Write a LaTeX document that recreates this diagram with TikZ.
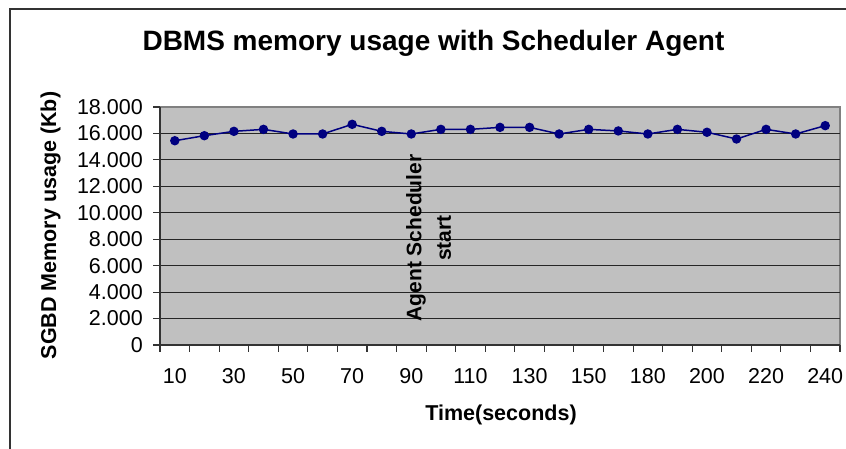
\documentclass[tikz,border=0pt]{standalone}
\usepackage{fontspec}
\setmainfont{Liberation Sans}
\definecolor{plotbg}{HTML}{C0C0C0}
\definecolor{plotframe}{HTML}{808080}
\definecolor{series}{HTML}{000080}
\definecolor{chartframe}{HTML}{333333}
\begin{document}
\begin{tikzpicture}[x=1pt,y=-1pt,
  ticklabel/.style={inner sep=0pt,font=\fontsize{21.5}{26}\selectfont},
  axistitle/.style={inner sep=0pt,font=\fontsize{21.5}{26}\selectfont\bfseries},
  charttitle/.style={inner sep=0pt,font=\fontsize{28}{34}\selectfont\bfseries},
  note/.style={inner sep=0pt,align=center,rotate=90,font=\fontsize{21}{29.5}\selectfont\bfseries},
  grid line/.style={black!85,line width=0.9pt},
  axis line/.style={black!80,line width=1.1pt},
  series line/.style={series,line width=1.5pt},
  marker/.style={circle,fill=series,inner sep=0pt,minimum size=9.5pt},
]
\useasboundingbox (0,0) rectangle (846,448);
\fill[white] (0,0) rectangle (846,448);

% chart frame (runs off the right and bottom edges)
\draw[chartframe,line width=1.6pt] (10,460) -- (10,9) -- (860,9);

% plot area
\fill[plotbg] (160,107) rectangle (840,345);
\draw[plotframe,line width=1.5pt] (160,107) -- (840,107) -- (840,345);

% horizontal grid lines every 2.000
\foreach \v in {1,...,8}
  \draw[grid line] (160,{345-\v*238/9}) -- (840,{345-\v*238/9});

% axes with tick marks
\draw[axis line] (160,107) -- (160,345) -- (840,345);
\foreach \v in {0,...,9}
  \draw[axis line] (153,{345-\v*238/9}) -- (160,{345-\v*238/9});
\foreach \k in {0,...,23}
  \draw[axis line] ({160+\k*680/23},345) -- ({160+\k*680/23},351.5);

% y tick labels
\foreach \v/\lab in {0/0,1/2.000,2/4.000,3/6.000,4/8.000,5/10.000,6/12.000,7/14.000,8/16.000,9/18.000}
  \node[ticklabel,anchor=east] (yl\v) at (143,{345-\v*238/9}) {\lab};

% x tick labels (every second category)
\foreach \k/\lab in {1/10,3/30,5/50,7/70,9/90,11/110,13/130,15/150,17/180,19/200,21/220,23/240}
  \node[ticklabel,anchor=base] (xl\k) at ({160+(\k-0.5)*680/23},383) {\lab};

% data series (values in thousands of Kb, scale 0..18 over 238pt)
\foreach \val [count=\i] in {15.45,15.83,16.16,16.31,15.96,15.96,16.69,16.16,15.96,16.31,16.31,16.46,16.46,15.96,16.31,16.19,15.96,16.31,16.09,15.58,16.31,15.96,16.59}
  \coordinate (p\i) at ({160+(\i-0.5)*680/23},{345-\val/18*238});
\draw[series line] (p1) \foreach \i in {2,...,23} { -- (p\i) };
\foreach \i in {1,...,23}
  \node[marker] (m\i) at (p\i) {};

% annotation
\node[note] (start) at (428.5,238) {Agent Scheduler\\start};

% titles
\node[charttitle,anchor=base] (title) at (433.5,50) {DBMS memory usage with Scheduler Agent};
\node[axistitle,anchor=base] (xtitle) at (501,420) {Time(seconds)};
\node[axistitle,anchor=base,rotate=90] (ytitle) at (56,225.5) {SGBD Memory usage (Kb)};
\end{tikzpicture}
\end{document}
